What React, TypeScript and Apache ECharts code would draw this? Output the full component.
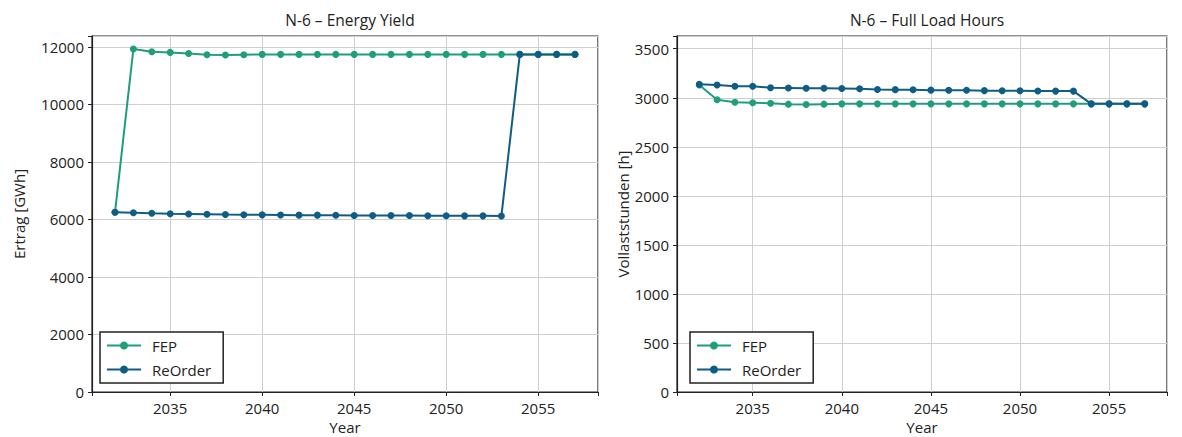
import React, { useEffect, useRef } from "react";
import * as echarts from "echarts";

const years = [2032, 2033, 2034, 2035, 2036, 2037, 2038, 2039, 2040, 2041, 2042, 2043, 2044, 2045, 2046, 2047, 2048, 2049, 2050, 2051, 2052, 2053, 2054, 2055, 2056, 2057];

const fepYield = [6250, 11930, 11830, 11810, 11770, 11730, 11720, 11730, 11740, 11740, 11740, 11740, 11740, 11740, 11740, 11740, 11740, 11740, 11740, 11740, 11740, 11740, 11740, 11740, 11740, 11740];
const reorderYield = [6250, 6235, 6215, 6200, 6190, 6180, 6170, 6165, 6160, 6155, 6150, 6150, 6145, 6140, 6140, 6135, 6135, 6130, 6130, 6125, 6125, 6120, 11740, 11740, 11740, 11740];

const fepHours = [3130, 2980, 2955, 2950, 2945, 2935, 2932, 2935, 2938, 2938, 2938, 2938, 2938, 2938, 2938, 2938, 2938, 2938, 2938, 2938, 2938, 2938, 2938, 2938, 2938, 2938];
const reorderHours = [3138, 3130, 3118, 3118, 3102, 3100, 3098, 3097, 3095, 3093, 3085, 3083, 3082, 3078, 3077, 3076, 3073, 3072, 3071, 3070, 3068, 3068, 2938, 2938, 2938, 2938];

const titles = ["N-6 – Energy Yield", "N-6 – Full Load Hours"];
const yNames = ["Ertrag [GWh]", "Vollaststunden [h]"];
const seriesNames = ["FEP", "ReOrder"];

const GREEN = "#1f9e7b";
const BLUE = "#0f5d84";
const FONT = "Open Sans";
const FS = 15;

const pairs = (vals: number[]) => years.map((y, i) => [y, vals[i]]);

export default function App() {
  const ref = useRef<HTMLDivElement>(null);
  useEffect(() => {
    if (!ref.current) return;
    const chart = echarts.init(ref.current, undefined, { renderer: "svg" });
    const grids = [
      { left: 92, right: 584, top: 36, bottom: 45 },
      { left: 677, right: 15, top: 36, bottom: 45 },
    ];
    const xAxis = [0, 1].map((i) => ({
      type: "value",
      gridIndex: i,
      min: 2030.75,
      max: 2058.25,
      minInterval: 5,
      maxInterval: 5,
      name: "Year",
      nameLocation: "middle",
      nameGap: 26,
      nameTextStyle: { fontFamily: FONT, fontSize: FS, color: "#222" },
      axisLine: { show: true, lineStyle: { color: "#222", width: 1.2 } },
      axisTick: { show: true, length: 4, lineStyle: { color: "#222" } },
      axisLabel: {
        fontFamily: FONT,
        fontSize: FS,
        color: "#222",
        margin: 8,
        formatter: (v: number) => (Math.abs(v % 5) < 1e-9 ? String(v) : ""),
      },
      splitLine: { show: true, lineStyle: { color: "#cfcfcf", width: 1 } },
    }));
    const yMax = [12380, 3630];
    const yInt = [2000, 500];
    const yGap = [66, 46];
    const yAxis = [0, 1].map((i) => ({
      type: "value",
      gridIndex: i,
      min: 0,
      max: yMax[i],
      interval: yInt[i],
      name: yNames[i],
      nameLocation: "middle",
      nameGap: yGap[i],
      nameTextStyle: { fontFamily: FONT, fontSize: FS, color: "#222" },
      axisLine: { show: true, lineStyle: { color: "#222", width: 1.2 } },
      axisTick: { show: true, length: 4, lineStyle: { color: "#222" } },
      axisLabel: {
        fontFamily: FONT,
        fontSize: FS,
        color: "#222",
        margin: 8,
        formatter: (v: number) => (v % yInt[i] === 0 ? String(v) : ""),
      },
      splitLine: { show: true, lineStyle: { color: "#cfcfcf", width: 1 } },
    }));
    const mk = (name: string, color: string, data: number[], idx: number, z: number) => ({
      type: "line",
      name,
      xAxisIndex: idx,
      yAxisIndex: idx,
      data: pairs(data),
      symbol: "circle",
      symbolSize: 7,
      showSymbol: true,
      lineStyle: { color, width: 2 },
      itemStyle: { color },
      z,
    });
    const legendBase = {
      orient: "vertical",
      top: 332,
      backgroundColor: "#fff",
      borderColor: "#222",
      borderWidth: 1.5,
      borderRadius: 0,
      padding: [6, 12, 6, 6],
      itemWidth: 34,
      itemHeight: 10,
      itemGap: 9,
      textStyle: { fontFamily: FONT, fontSize: FS, color: "#222", padding: [0, 0, 0, 6] },
      data: seriesNames,
    };
    chart.setOption({
      animation: false,
      backgroundColor: "#fff",
      title: [
        { text: titles[0], left: 345, top: 7, textAlign: "center", textStyle: { fontFamily: FONT, fontSize: 15.5, fontWeight: "normal", color: "#222" } },
        { text: titles[1], left: 922, top: 7, textAlign: "center", textStyle: { fontFamily: FONT, fontSize: 15.5, fontWeight: "normal", color: "#222" } },
      ],
      grid: grids.map((g) => ({ ...g, show: true, outerBoundsMode: "none", containLabel: false, borderColor: "#222", borderWidth: 1.2, backgroundColor: "transparent" })),
      xAxis,
      yAxis,
      legend: [
        { ...legendBase, left: 100 },
        { ...legendBase, left: 690 },
      ],
      series: [
        mk(seriesNames[0], GREEN, fepYield, 0, 2),
        mk(seriesNames[1], BLUE, reorderYield, 0, 3),
        mk(seriesNames[0], GREEN, fepHours, 1, 2),
        mk(seriesNames[1], BLUE, reorderHours, 1, 3),
      ],
    });
    return () => chart.dispose();
  }, []);
  return <div ref={ref} style={{ position: "absolute", left: 0, top: 0, width: 1182, height: 437 }} />;
}
